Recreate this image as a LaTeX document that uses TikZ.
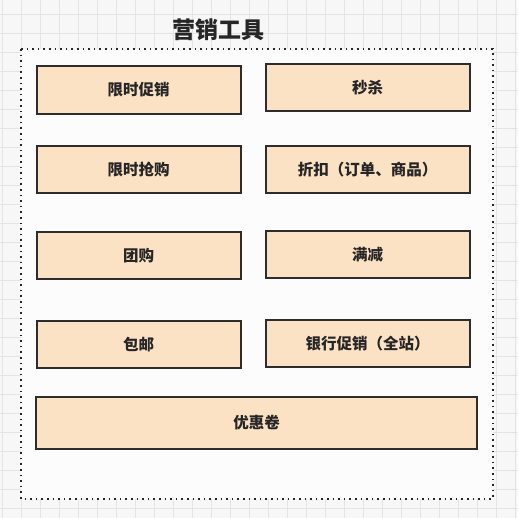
\documentclass[tikz,border=0pt]{standalone}
\usepackage{fontspec}
\setmainfont{Noto Sans CJK SC}
\definecolor{peach}{RGB}{252,226,196}
\definecolor{edge}{RGB}{45,45,45}
\definecolor{gridline}{RGB}{228,228,228}
\definecolor{paper}{RGB}{247,247,247}
\tikzset{
	tool/.style={draw=edge, line width=2pt, fill=peach, rectangle, inner sep=0pt,
		font=\bfseries\fontsize{15.5}{18}\selectfont, text=black!85}
}
\begin{document}
\begin{tikzpicture}[x=1pt, y=-1pt]
	\useasboundingbox (0,0) rectangle (518,518);
	\fill[paper] (0,0) rectangle (518,518);
	\foreach \i in {0,...,27} {
		\draw[gridline, line width=0.8pt] ({2+19*\i},0) -- ({2+19*\i},518);
		\draw[gridline, line width=0.8pt] (0,{14+19*\i}) -- (518,{14+19*\i});
	}
	\fill[white!60!paper] (21,49) rectangle (493,499);
	\draw[black!85, line width=1.6pt, dash pattern=on 1.6pt off 4pt] (21,49) rectangle (493,499);
	\node[font=\bfseries\fontsize{23}{26}\selectfont, text=black!85] (title) at (218,30) {营销工具};
	\node[tool, minimum width=204pt, minimum height=48pt] (xianshi) at (138.5,90) {限时促销};
	\node[tool, minimum width=204pt, minimum height=47pt] (miaosha) at (367.5,88) {秒杀};
	\node[tool, minimum width=204pt, minimum height=47pt] (qianggou) at (138.5,169.5) {限时抢购};
	\node[tool, minimum width=204pt, minimum height=47pt] (zhekou) at (367.5,169.5) {折扣（订单、商品）};
	\node[tool, minimum width=204pt, minimum height=47pt] (tuangou) at (138.5,255.5) {团购};
	\node[tool, minimum width=204pt, minimum height=47pt] (manjian) at (367.5,254.5) {满减};
	\node[tool, minimum width=204pt, minimum height=47pt] (baoyou) at (138.5,344.5) {包邮};
	\node[tool, minimum width=204pt, minimum height=47pt] (yinhang) at (367.5,343.5) {银行促销（全站）};
	\node[tool, minimum width=441pt, minimum height=52pt] (youhui) at (256.5,423) {优惠卷};
\end{tikzpicture}
\end{document}
